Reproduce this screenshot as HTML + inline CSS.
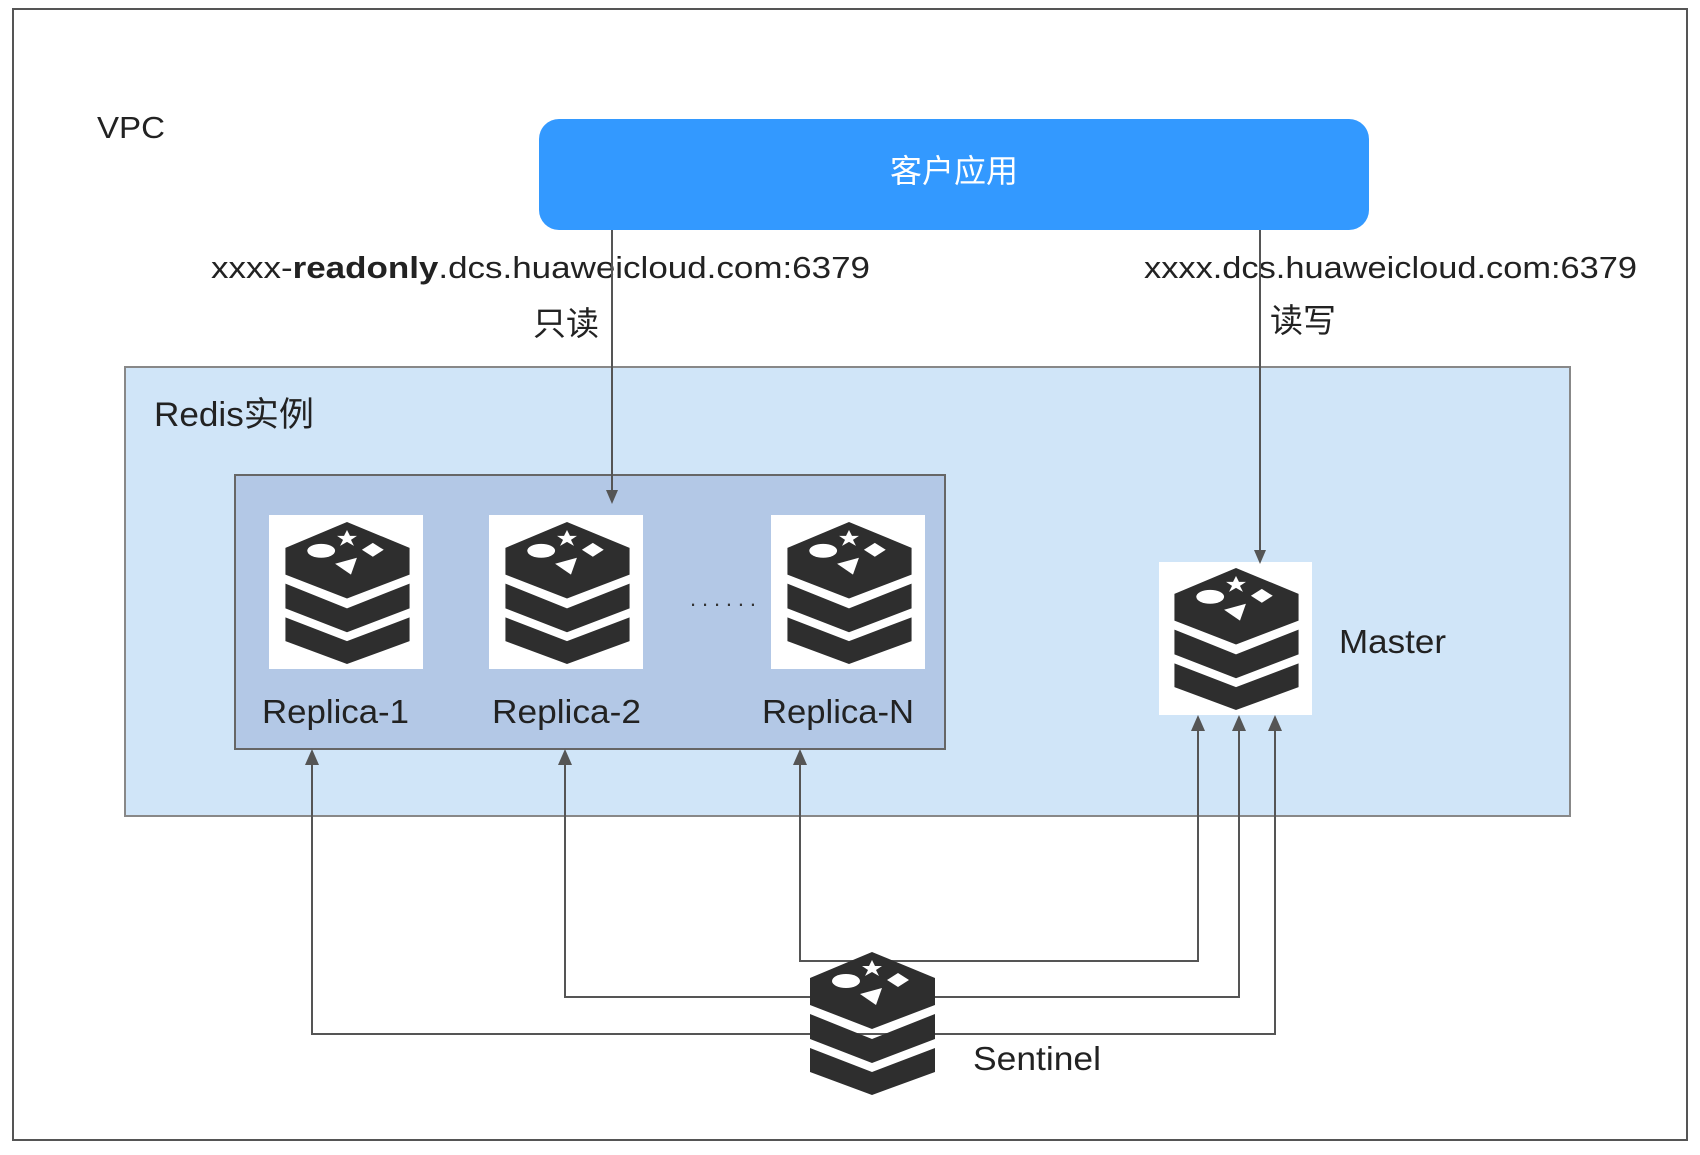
<!DOCTYPE html>
<html><head><meta charset="utf-8"><style>
html,body{margin:0;padding:0;background:#fff;}
svg{display:block;}
text{font-family:"Liberation Sans","Noto Sans CJK SC",sans-serif;}
</style></head><body>
<svg width="1700" height="1155" viewBox="0 0 1700 1155" xmlns="http://www.w3.org/2000/svg">
<defs>
<symbol id="ri" viewBox="0 0 125 143">
<g fill="#2e2e2e">
<polygon points="0,26 62,0 125,26 125,53 62,77 0,53"/>
<polygon points="0,62 62,87 125,62 125,87 62,111 0,87"/>
<polygon points="0,96 62,120 125,96 125,120 62,143 0,120"/>
</g>
<g fill="#fff">
<ellipse cx="36" cy="29" rx="14" ry="7"/>
<polygon points="88,21 99,28 88,35 77,28"/>
<polygon points="62,8 65,14 72,14 66,18 69,24 62,20 55,24 58,18 52,14 59,14"/>
<polygon points="50,42 72,36 66,53"/>
</g>
</symbol>
</defs>
<rect x="13" y="9" width="1674" height="1131" fill="#fff" stroke="#555" stroke-width="2"/>
<text x="97" y="138" font-size="31" fill="#222" textLength="68" lengthAdjust="spacingAndGlyphs">VPC</text>
<rect x="539" y="119" width="830" height="111" rx="20" fill="#3399ff"/>
<text x="954" y="182" font-size="32" fill="#fff" text-anchor="middle">客户应用</text>
<text x="211" y="278" font-size="31" fill="#222" textLength="659" lengthAdjust="spacingAndGlyphs">xxxx-<tspan font-weight="bold">readonly</tspan>.dcs.huaweicloud.com:6379</text>
<text x="533" y="335" font-size="33" fill="#222">只读</text>
<text x="1144" y="278" font-size="31" fill="#222" textLength="493" lengthAdjust="spacingAndGlyphs">xxxx.dcs.huaweicloud.com:6379</text>
<text x="1270" y="332" font-size="33" fill="#222">读写</text>
<rect x="125" y="367" width="1445" height="449" fill="#d0e5f8" stroke="#888" stroke-width="2"/>
<text x="154" y="426" font-size="34" fill="#222" textLength="160" lengthAdjust="spacingAndGlyphs">Redis实例</text>
<rect x="235" y="475" width="710" height="274" fill="#b3c8e6" stroke="#666" stroke-width="2"/>
<g fill="#fff">
<rect x="269" y="515" width="154" height="154"/>
<rect x="489" y="515" width="154" height="154"/>
<rect x="771" y="515" width="154" height="154"/>
<rect x="1159" y="562" width="153" height="153"/>
</g>
<use href="#ri" x="284" y="522" width="127" height="142"/>
<use href="#ri" x="504" y="522" width="127" height="142"/>
<use href="#ri" x="786" y="522" width="127" height="142"/>
<use href="#ri" x="1173" y="568" width="127" height="142"/>
<g font-size="33" fill="#222">
<text x="262" y="723" textLength="147" lengthAdjust="spacingAndGlyphs">Replica-1</text>
<text x="492" y="723" textLength="149" lengthAdjust="spacingAndGlyphs">Replica-2</text>
<text x="762" y="723" textLength="152" lengthAdjust="spacingAndGlyphs">Replica-N</text>
<text x="1339" y="653" textLength="107" lengthAdjust="spacingAndGlyphs">Master</text>
<text x="973" y="1070" textLength="128" lengthAdjust="spacingAndGlyphs">Sentinel</text>
</g>
<text x="690" y="606" font-size="22" fill="#333" textLength="66" lengthAdjust="spacing">......</text>
<g stroke="#555" stroke-width="2" fill="none">
<line x1="612" y1="230" x2="612" y2="497"/>
<line x1="1260" y1="230" x2="1260" y2="558"/>
<polyline points="312,753 312,1034 1275,1034 1275,719"/>
<polyline points="565,753 565,997 1239,997 1239,719"/>
<polyline points="800,753 800,961 1198,961 1198,719"/>
</g>
<g fill="#555">
<polygon points="606,490 618,490 612,504"/>
<polygon points="1254,550 1266,550 1260,564"/>
<polygon points="305,765 319,765 312,749"/>
<polygon points="558,765 572,765 565,749"/>
<polygon points="793,765 807,765 800,749"/>
<polygon points="1268,731 1282,731 1275,715"/>
<polygon points="1232,731 1246,731 1239,715"/>
<polygon points="1191,731 1205,731 1198,715"/>
</g>
<use href="#ri" x="810" y="952" width="125" height="143"/>
</svg>
</body></html>
